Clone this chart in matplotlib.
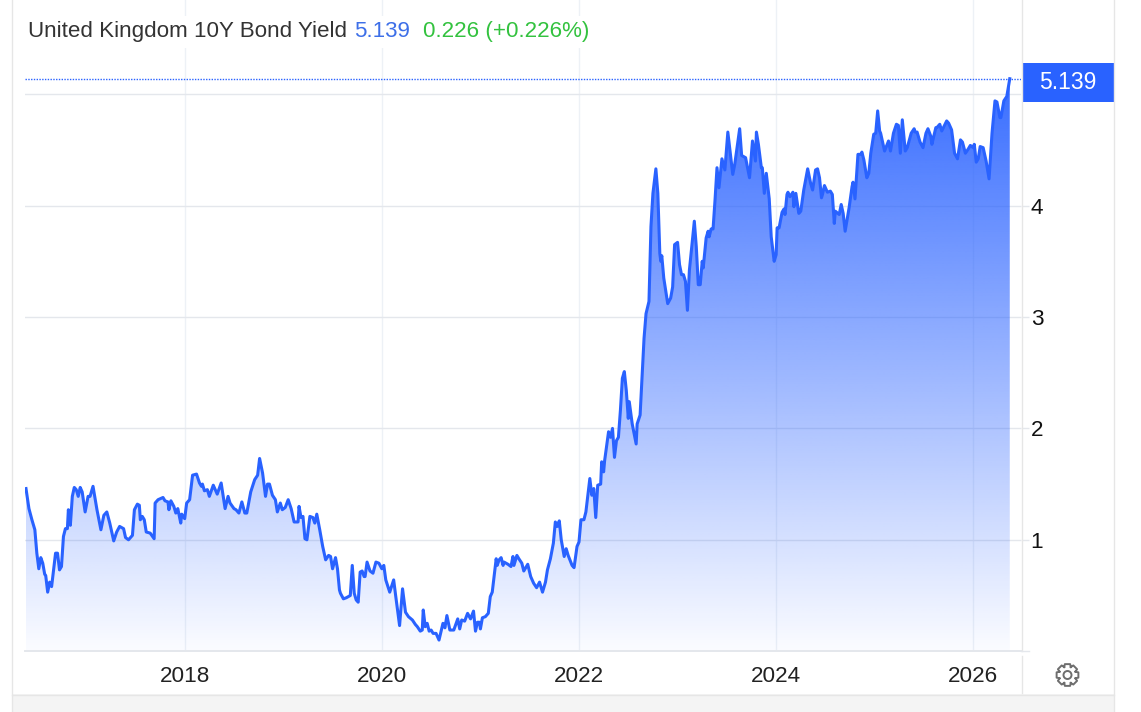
import numpy as np
import matplotlib
matplotlib.use("Agg")
import matplotlib.pyplot as plt
from matplotlib.patches import Rectangle, PathPatch, Circle
from matplotlib.path import Path

plt.rcParams['font.family'] = ['Liberation Sans', 'DejaVu Sans']

TITLE = "United Kingdom 10Y Bond Yield"
LAST = "5.139"
CHANGE = "0.226 (+0.226%)"
x_ticks = [2018, 2020, 2022, 2024, 2026]
y_ticks = [1, 2, 3, 4, 5]
y_labels = ['1', '2', '3', '4', '']

years_a = [2016.39,2016.42,2016.45,2016.48,2016.50,2016.52,2016.54,2016.56,2016.58,2016.59,2016.61,2016.63,2016.65,2016.68,2016.69,2016.71,2016.73,2016.75,2016.77,2016.79,2016.81,2016.82,2016.84,2016.86,2016.88,2016.90,2016.92,2016.94,2016.96,2016.99,
 2017.02,2017.04,2017.07,2017.11,2017.15,2017.18,2017.21,2017.24,2017.28,2017.31,2017.34,2017.38,2017.40,2017.43,2017.47,2017.49,2017.52,2017.54,2017.55,2017.57,2017.59,2017.61,2017.65,2017.69,2017.70,2017.73,2017.78,2017.80,2017.83,2017.84,2017.86,2017.89,2017.91,2017.93,2017.96,2017.97,
 2018.00,2018.02,2018.05,2018.08,2018.12,2018.15,2018.17,2018.18,2018.20,2018.23,2018.25,2018.29,2018.33,2018.37,2018.41,2018.44,2018.46,2018.50,2018.52,2018.55,2018.58,2018.61,2018.63,2018.67,2018.71,2018.74,2018.76,2018.79,2018.82,2018.84,2018.86,2018.89,2018.92,2018.94,2018.97,2018.99,
 2019.02,2019.05,2019.08,2019.11,2019.15,2019.16,2019.18,2019.20,2019.22,2019.24,2019.27,2019.30,2019.32,2019.34,2019.37,2019.40,2019.43,2019.46,2019.48,2019.50,2019.53,2019.55,2019.57]
yields_a = [1.46,1.28,1.18,1.09,0.88,0.74,0.84,0.79,0.69,0.68,0.53,0.62,0.58,0.80,0.88,0.88,0.73,0.76,1.03,1.10,1.10,1.27,1.13,1.39,1.47,1.45,1.39,1.47,1.43,1.25,
 1.39,1.39,1.48,1.27,1.09,1.22,1.25,1.15,0.99,1.07,1.12,1.10,1.02,1.00,1.04,1.27,1.32,1.31,1.18,1.21,1.18,1.07,1.06,1.01,1.33,1.36,1.38,1.35,1.34,1.27,1.35,1.30,1.24,1.28,1.15,1.23,
 1.19,1.33,1.36,1.58,1.59,1.51,1.48,1.50,1.44,1.45,1.39,1.49,1.41,1.51,1.28,1.39,1.33,1.28,1.27,1.24,1.34,1.24,1.24,1.43,1.54,1.58,1.73,1.60,1.39,1.50,1.50,1.40,1.36,1.25,1.33,1.27,
 1.29,1.36,1.28,1.16,1.16,1.30,1.20,1.21,1.01,1.00,1.21,1.20,1.15,1.23,1.09,0.94,0.82,0.86,0.85,0.74,0.84,0.74,0.55]

years_b = [2019.58,2019.61,2019.64,2019.68,2019.70,2019.72,2019.74,2019.76,2019.78,2019.80,2019.82,2019.83,2019.85,2019.88,2019.91,2019.94,2019.97,
 2020.00,2020.02,2020.04,2020.08,2020.12,2020.14,2020.18,2020.21,2020.24,2020.27,2020.31,2020.34,2020.36,2020.39,2020.41,2020.42,2020.44,2020.46,2020.48,2020.50,2020.52,2020.55,2020.58,2020.62,2020.64,2020.66,2020.69,2020.73,2020.77,2020.79,2020.81,2020.84,2020.87,2020.90,2020.93,2020.95,2020.97,2020.99,
 2021.00,2021.02,2021.05,2021.08,2021.10,2021.12,2021.16,2021.17,2021.19,2021.21,2021.23,2021.24,2021.28,2021.31,2021.33,2021.34,2021.37,2021.39,2021.42,2021.44,2021.48,2021.51,2021.54,2021.57,2021.60,2021.63,2021.66,2021.68,2021.71,2021.74,2021.76,2021.78,2021.80,2021.82,2021.85,2021.87,2021.89,2021.93,2021.95,2021.98]
yields_b = [0.52,0.47,0.48,0.50,0.77,0.52,0.46,0.44,0.71,0.72,0.67,0.67,0.80,0.72,0.70,0.80,0.79,
 0.74,0.77,0.64,0.53,0.64,0.50,0.23,0.56,0.35,0.31,0.28,0.24,0.22,0.18,0.19,0.37,0.22,0.25,0.18,0.19,0.16,0.16,0.10,0.25,0.21,0.32,0.19,0.19,0.29,0.20,0.28,0.27,0.34,0.29,0.36,0.18,0.26,0.26,
 0.20,0.30,0.31,0.34,0.49,0.53,0.83,0.77,0.82,0.84,0.77,0.80,0.78,0.76,0.85,0.77,0.86,0.83,0.79,0.72,0.78,0.67,0.61,0.57,0.62,0.53,0.62,0.73,0.83,0.97,1.16,1.12,1.17,1.00,0.85,0.92,0.86,0.77,0.75,0.94]

years_c = [2022.00,2022.02,2022.05,2022.07,2022.11,2022.13,2022.15,2022.17,2022.19,2022.22,2022.23,2022.25,2022.26,2022.29,2022.30,2022.32,2022.34,2022.36,2022.38,2022.40,2022.42,2022.44,2022.46,2022.48,2022.50,2022.51,2022.54,2022.58,2022.59,2022.62,2022.64,2022.66,2022.68,2022.71,2022.73,2022.75,2022.78,2022.80,2022.82,2022.83,2022.84,2022.86,2022.90,2022.93,2022.95,2022.97,
 2023.00,2023.02,2023.04,2023.06,2023.08,2023.10,2023.12,2023.14,2023.17,2023.19,2023.21,2023.23,2023.25,2023.26,2023.29,2023.31,2023.32,2023.34,2023.36,2023.38,2023.40,2023.42,2023.45,2023.48,2023.51,2023.56,2023.58,2023.63,2023.65,2023.69,2023.73,2023.76,2023.79,2023.80,2023.82,2023.85,2023.86,2023.88,2023.90,2023.93,2023.95,2023.98]
yields_c = [0.98,1.18,1.18,1.25,1.55,1.40,1.46,1.20,1.49,1.50,1.70,1.61,1.71,1.91,1.97,1.92,2.00,1.74,1.89,1.92,2.16,2.45,2.51,2.34,2.09,2.24,2.04,1.86,2.04,2.12,2.46,2.81,3.03,3.14,3.81,4.11,4.33,4.11,3.57,3.50,3.55,3.35,3.12,3.17,3.27,3.65,
 3.67,3.47,3.38,3.38,3.32,3.06,3.42,3.60,3.86,3.63,3.29,3.29,3.50,3.44,3.71,3.77,3.72,3.79,3.79,4.05,4.34,4.16,4.42,4.32,4.66,4.28,4.37,4.69,4.45,4.43,4.25,4.58,4.40,4.66,4.55,4.34,4.34,4.11,4.29,4.06,3.72,3.50]

years_d = [2024.00,2024.01,2024.03,2024.06,2024.08,2024.09,2024.11,2024.12,2024.14,2024.17,2024.18,2024.20,2024.23,2024.25,2024.28,2024.32,2024.35,2024.37,2024.40,2024.42,2024.44,2024.46,2024.47,2024.49,2024.52,2024.55,2024.57,2024.59,2024.60,2024.64,2024.66,2024.68,2024.70,2024.74,2024.77,2024.78,2024.80,2024.83,2024.86,2024.87,2024.89,2024.92,2024.94,2024.96,2024.99,
 2025.01,2025.03,2025.05,2025.06,2025.10,2025.14,2025.16,2025.19,2025.22,2025.24,2025.26,2025.28,2025.31,2025.33,2025.37,2025.40,2025.41,2025.43,2025.46,2025.49,2025.52,2025.54,2025.57,2025.58,2025.62,2025.63,2025.66,2025.68,2025.73,2025.75,2025.78,2025.81,2025.84,2025.87,2025.89,2025.92,2025.95,2025.97,
 2026.00,2026.01,2026.03,2026.05,2026.07,2026.10,2026.13,2026.16,2026.19,2026.22,2026.24,2026.27,2026.28,2026.31,2026.34,2026.37]
yields_d = [3.56,3.80,3.80,3.94,3.97,3.92,4.10,4.12,4.08,4.12,3.99,4.11,3.93,3.95,4.14,4.33,4.20,4.14,4.32,4.33,4.25,4.07,4.10,4.18,4.12,4.13,4.10,3.84,3.95,3.92,4.01,3.93,3.77,3.98,4.17,4.21,4.06,4.46,4.46,4.48,4.41,4.25,4.29,4.47,4.64,
 4.65,4.85,4.67,4.65,4.49,4.58,4.49,4.65,4.73,4.72,4.47,4.77,4.49,4.52,4.65,4.69,4.66,4.66,4.57,4.52,4.65,4.69,4.62,4.55,4.70,4.70,4.73,4.67,4.76,4.74,4.68,4.47,4.42,4.59,4.57,4.47,4.51,4.54,
 4.52,4.55,4.39,4.42,4.53,4.52,4.40,4.24,4.65,4.94,4.93,4.79,4.79,4.94,4.98,5.139]

years = np.array(years_a + years_b + years_c + years_d)
yields = np.array(yields_a + yields_b + yields_c + yields_d)

W, H = 1141, 712
BLUE = '#2962ff'
GRID_V = '#edf1f6'
GRID_H = '#e4e7ec'
BORDER = '#e6e6e6'

fig = plt.figure(figsize=(W / 100, H / 100), dpi=100, facecolor='white')
L, R, B = 25, 1021, 651.2
PX_PER_UNIT = 111.4
XLIM = (2016.38, 2026.484)
YLIM = (0, B / PX_PER_UNIT)
ax = fig.add_axes([L / W, 1 - B / H, (R - L) / W, B / H])
for s in ax.spines.values():
    s.set_visible(False)
ax.spines['bottom'].set_visible(True)
ax.spines['bottom'].set_color(GRID_H)
ax.spines['bottom'].set_linewidth(1.4)

ax.set_xticks(x_ticks)
ax.set_xticklabels([str(t) for t in x_ticks], fontsize=16.2, color='#222222')
ax.tick_params(axis='x', length=0, pad=11)
ax.yaxis.tick_right()
ax.set_yticks(y_ticks)
ax.set_yticklabels(y_labels, fontsize=16.2, color='#111111')
ax.tick_params(axis='y', length=5.5, width=1, color=GRID_H, pad=1.5)
ax.yaxis.get_major_ticks()[-1].tick2line.set_visible(False)
ax.set_axisbelow(True)
ax.grid(axis='x', color=GRID_V, lw=1)
ax.grid(axis='y', color=GRID_H, lw=1)

# vertical gradient fill clipped to the area under the series
grad = np.zeros((256, 2, 4))
grad[..., 0] = 41 / 255
grad[..., 1] = 98 / 255
grad[..., 2] = 1.0
grad[..., 3] = np.linspace(0.93, 0.02, 256)[:, None]
ymax = yields.max()
img = ax.imshow(grad, extent=[years[0], years[-1], 0, ymax], origin='upper',
                aspect='auto', zorder=2, interpolation='bilinear')
poly = ax.fill_between(years, yields, 0, color='none', zorder=1)
img.set_clip_path(poly.get_paths()[0], transform=ax.transData)
ax.set_xlim(*XLIM)
ax.set_ylim(*YLIM)

ax.plot(years, yields, color=BLUE, lw=2.2, zorder=3, solid_joinstyle='round')
ax.axhline(yields[-1], color=BLUE, lw=1.0, ls=(0, (1, 1)), zorder=3)

# page chrome in pixel coordinates
ov = fig.add_axes([0, 0, 1, 1], facecolor='none')
ov.set_xlim(0, W)
ov.set_ylim(H, 0)
ov.axis('off')
ov.add_patch(Rectangle((12, 694), 1102, 18, fc='#f4f4f4', ec='none'))
ov.plot([12, 1114], [694.5, 694.5], color=BORDER, lw=1)
ov.plot([12, 12], [0, H], color=BORDER, lw=1)
ov.plot([1114, 1114], [0, H], color=BORDER, lw=1)
ov.plot([1021.5, 1021.5], [0, 651], color=BORDER, lw=1)
ov.plot([1021.5, 1021.5], [656, 693], color=BORDER, lw=1)
ov.plot([1021, 1029], [651, 651], color=GRID_H, lw=1)
ov.add_patch(Rectangle((20, 16), 580, 32, fc='white', ec='none'))

ov.text(28, 37, TITLE, fontsize=16.1, color='#333333', va='baseline', ha='left')
ov.text(354, 37, LAST, fontsize=16.1, color='#3d6fe8', va='baseline', ha='left')
ov.text(423, 37, CHANGE, fontsize=16.1, color='#33c23f', va='baseline', ha='left')

ov.add_patch(Rectangle((1022, 63), 92, 39, fc=BLUE, ec='none'))
ov.text(1068, 82.5, LAST, fontsize=16.5, color='white', va='center', ha='center')

# settings gear icon
cx, cy = 1067.5, 675
n = 8
verts = []
for i in range(n):
    a = 2 * np.pi * i / n - np.pi / 2
    hw = 0.24
    verts += [(a - 0.41, 8.3), (a - hw, 11.2), (a + hw, 11.2), (a + 0.41, 8.3)]
pts = [(cx + r * np.cos(a), cy + r * np.sin(a)) for a, r in verts]
codes = [Path.MOVETO] + [Path.LINETO] * (len(pts) - 1) + [Path.CLOSEPOLY]
ov.add_patch(PathPatch(Path(pts + [pts[0]], codes), fc='none', ec='#6e6e6e', lw=1.4, joinstyle='round'))
ov.add_patch(Circle((cx, cy), 4, fc='none', ec='#6e6e6e', lw=1.4))

fig.savefig('out.png', dpi=100)
